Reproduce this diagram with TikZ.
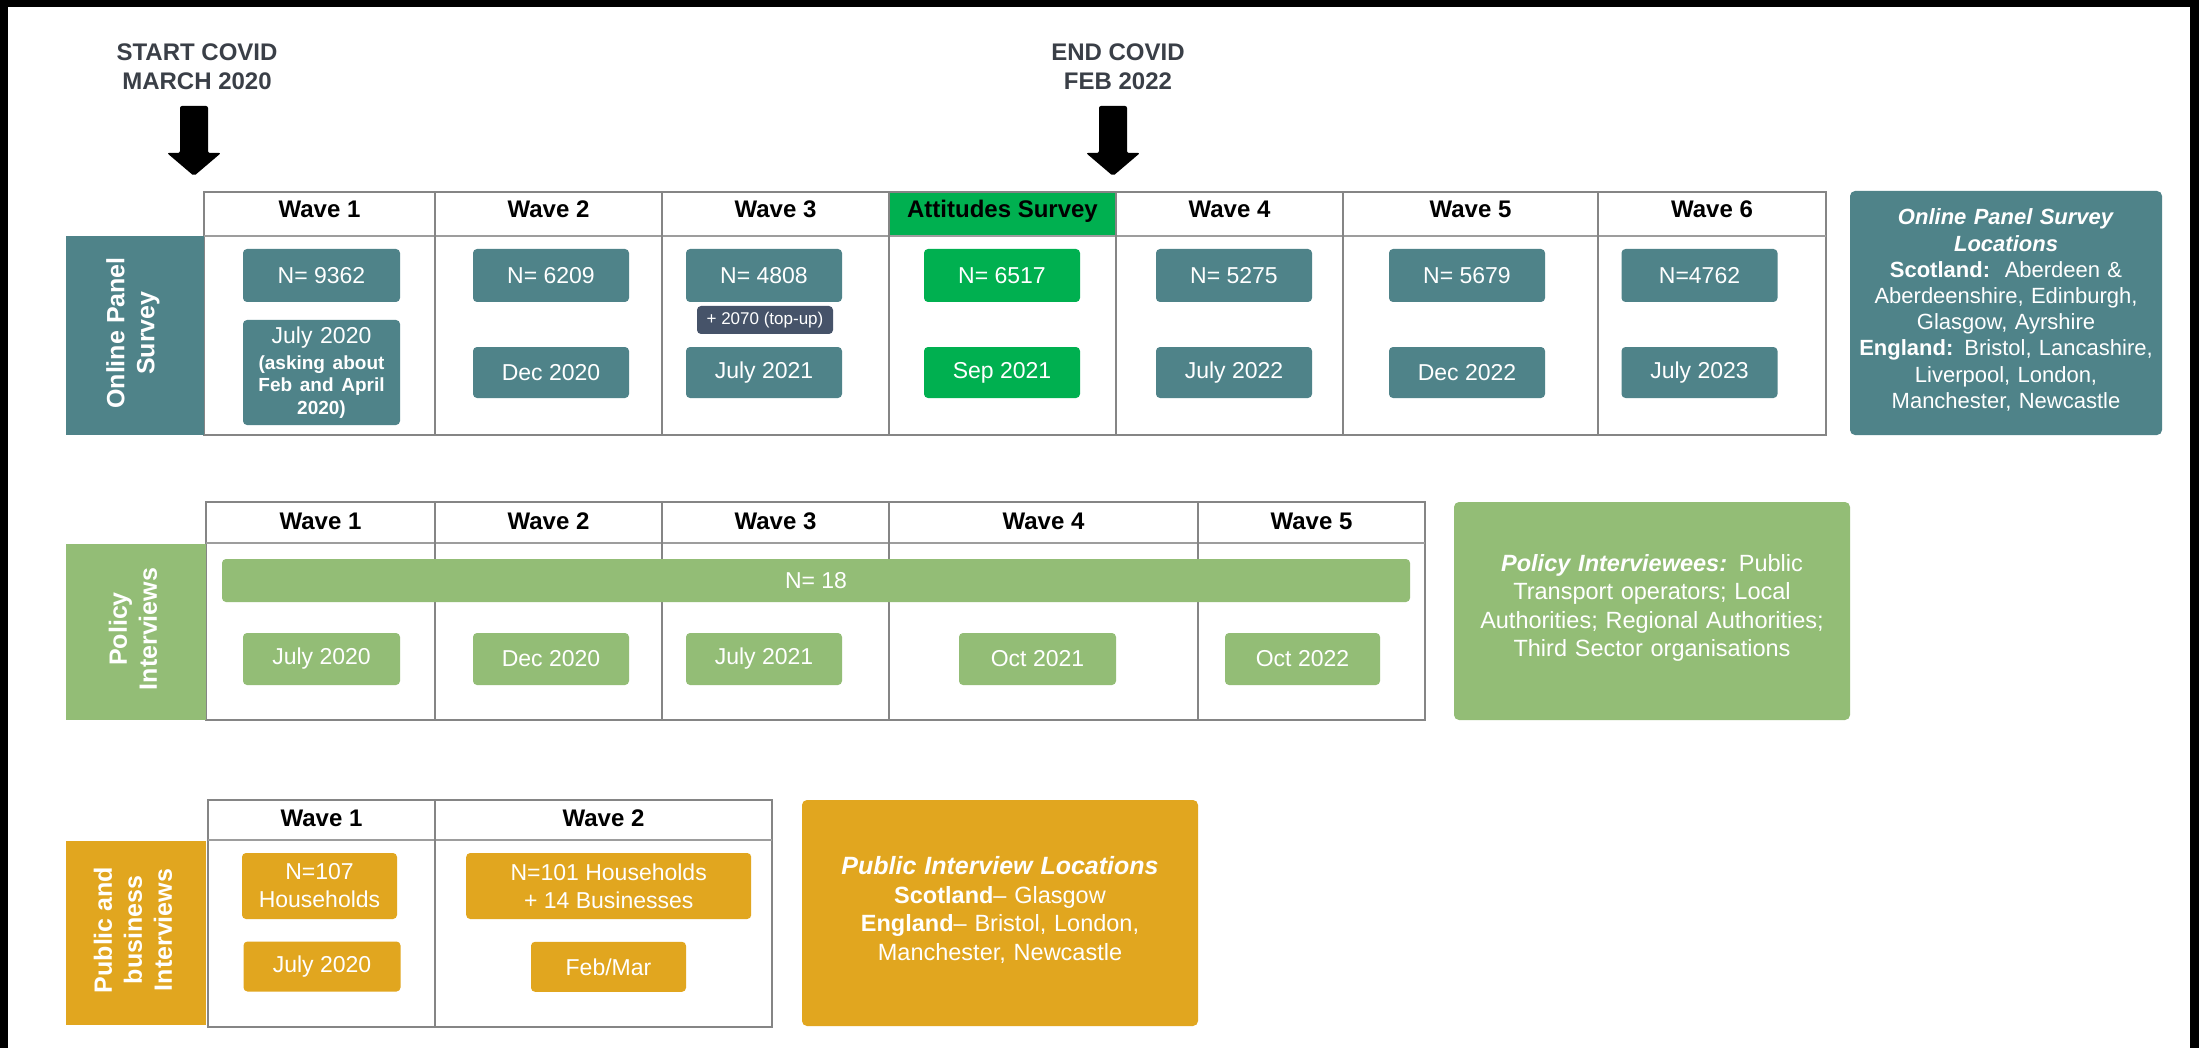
\documentclass[tikz,border=0pt]{standalone}
\usepackage{fontspec}
\setmainfont{Liberation Sans}
\definecolor{teal}{HTML}{4F8389}
\definecolor{attgreen}{HTML}{00B050}
\definecolor{lgreen}{HTML}{93BD76}
\definecolor{gold}{HTML}{E1A61F}
\definecolor{slate}{HTML}{465369}
\definecolor{gridgray}{HTML}{858585}
\definecolor{capgray}{HTML}{3A3F47}
\tikzset{
  gridline/.style={draw=gridgray, line width=1.5pt},
  hdrline/.style={draw=gridgray!80, line width=2.5pt},
  hdr/.style={font=\fontsize{24}{28}\selectfont\bfseries, inner sep=0pt, anchor=base},
  pill/.style={rectangle, rounded corners=4pt, fill=#1, text=white, inner sep=0pt, align=center, font=\fontsize{23}{28}\selectfont},
  rowbox/.style={rectangle, fill=#1, inner sep=0pt},
  rowtext/.style={rotate=90, text=white, inner sep=0pt, align=center, font=\fontsize{25}{30}\selectfont\bfseries},
  infobox/.style={rectangle, rounded corners=5pt, fill=#1, text=white, inner sep=0pt, align=center},
  covidlabel/.style={text=capgray, inner sep=0pt, align=center, font=\fontsize{24}{29}\selectfont\bfseries},
}
\begin{document}
\begin{tikzpicture}[x=1pt,y=-1pt]
\useasboundingbox (0,0) rectangle (2199,1048);
\fill[black] (0,0) rectangle (2199,1048);
\fill[white] (8,7) rectangle (2190,1048);

% ---------- COVID markers ----------
\node[covidlabel] (startlbl) at (197,67) {START COVID\\MARCH 2020};
\node[covidlabel] (endlbl) at (1118,67) {END COVID\\FEB 2022};
\fill[black, rounded corners=2pt] (180,106) -- (208,106) -- (208,153) -- (221,153) -- (194,176) -- (167,153) -- (180,153) -- cycle;
\fill[black, rounded corners=2pt] (1099,106) -- (1127,106) -- (1127,153) -- (1140,153) -- (1113,176) -- (1086,153) -- (1099,153) -- cycle;

% ---------- Online panel survey table ----------
\fill[attgreen] (889,192) rectangle (1116,236);
\draw[gridline] (204,192) rectangle (1826,435);
\draw[hdrline] (204,236) -- (1826,236);
\foreach \x in {435,662,889,1116,1343,1598} \draw[gridline] (\x,192) -- (\x,435);
\node[hdr] (h1w1) at (319.5,218) {Wave 1};
\node[hdr] (h1w2) at (548.5,218) {Wave 2};
\node[hdr] (h1w3) at (775.5,218) {Wave 3};
\node[hdr] (h1att) at (1002.5,218) {Attitudes Survey};
\node[hdr] (h1w4) at (1229.5,218) {Wave 4};
\node[hdr] (h1w5) at (1470.5,218) {Wave 5};
\node[hdr] (h1w6) at (1712,218) {Wave 6};

\node[rowbox=teal, minimum width=138pt, minimum height=199pt] (lab1) at (135,335.5) {};
\node[rowtext] (lab1t) at (133,333) {Online Panel\\Survey};

\node[pill=teal, minimum width=157pt, minimum height=53pt] (on1) at (321.5,275.5) {N= 9362};
\node[pill=teal, minimum width=156pt, minimum height=53pt] (on2) at (551,275.5) {N= 6209};
\node[pill=teal, minimum width=156pt, minimum height=53pt] (on3) at (764,275.5) {N= 4808};
\node[pill=attgreen, minimum width=156pt, minimum height=53pt] (onatt) at (1002,275.5) {N= 6517};
\node[pill=teal, minimum width=156pt, minimum height=53pt] (on4) at (1234,275.5) {N= 5275};
\node[pill=teal, minimum width=156pt, minimum height=53pt] (on5) at (1467,275.5) {N= 5679};
\node[pill=teal, minimum width=156pt, minimum height=53pt] (on6) at (1699.5,275.5) {N=4762};

\node[pill=slate, minimum width=136pt, minimum height=28pt, font=\fontsize{17}{20}\selectfont] (topup) at (765,320) {+ 2070 (top-up)};

\node[pill=teal, minimum width=157pt, minimum height=105pt, text width=157pt] (od1) at (321.5,372.5) {July 2020\par\vspace{3pt}{\fontsize{19}{22.5}\selectfont\bfseries (asking about\\Feb and April\\2020)\par}};
\node[pill=teal, minimum width=156pt, minimum height=51pt] (od2) at (551,372.5) {Dec 2020};
\node[pill=teal, minimum width=156pt, minimum height=51pt] (od3) at (764,372.5) {July 2021};
\node[pill=attgreen, minimum width=156pt, minimum height=51pt] (odatt) at (1002,372.5) {Sep 2021};
\node[pill=teal, minimum width=156pt, minimum height=51pt] (od4) at (1234,372.5) {July 2022};
\node[pill=teal, minimum width=156pt, minimum height=51pt] (od5) at (1467,372.5) {Dec 2022};
\node[pill=teal, minimum width=156pt, minimum height=51pt] (od6) at (1699.5,372.5) {July 2023};

\node[infobox=teal, minimum width=312pt, minimum height=244pt, text width=300pt, font=\fontsize{22}{26.2}\selectfont] (onloc) at (2006,313)
 {\textbf{\textit{Online Panel Survey}}\\\textbf{\textit{Locations}}\\\textbf{Scotland:}\ \ Aberdeen \&\\Aberdeenshire, Edinburgh,\\Glasgow, Ayrshire\\\textbf{England:} Bristol, Lancashire,\\Liverpool, London,\\Manchester, Newcastle\par\vspace{6pt}};

% ---------- Policy interviews table ----------
\draw[gridline] (206,502) rectangle (1425,720);
\draw[hdrline] (206,543) -- (1425,543);
\foreach \x in {435,662,889,1198} \draw[gridline] (\x,502) -- (\x,720);
\node[hdr] (h2w1) at (320.5,529) {Wave 1};
\node[hdr] (h2w2) at (548.5,529) {Wave 2};
\node[hdr] (h2w3) at (775.5,529) {Wave 3};
\node[hdr] (h2w4) at (1043.5,529) {Wave 4};
\node[hdr] (h2w5) at (1311.5,529) {Wave 5};

\node[rowbox=lgreen, minimum width=140pt, minimum height=176pt] (lab2) at (136,632) {};
\node[rowtext] (lab2t) at (133,629) {Policy\\Interviews};

\node[pill=lgreen, minimum width=1188pt, minimum height=43pt] (pn) at (816,580.5) {N= 18};
\node[pill=lgreen, minimum width=157pt, minimum height=52pt] (pd1) at (321.5,659) {July 2020};
\node[pill=lgreen, minimum width=156pt, minimum height=52pt] (pd2) at (551,659) {Dec 2020};
\node[pill=lgreen, minimum width=156pt, minimum height=52pt] (pd3) at (764,659) {July 2021};
\node[pill=lgreen, minimum width=157pt, minimum height=52pt] (pd4) at (1037.5,659) {Oct 2021};
\node[pill=lgreen, minimum width=155pt, minimum height=52pt] (pd5) at (1302.5,659) {Oct 2022};

\node[infobox=lgreen, minimum width=396pt, minimum height=218pt, text width=385pt, font=\fontsize{23.5}{28.6}\selectfont] (polbox) at (1652,611)
 {\textbf{\textit{Policy Interviewees:}} Public\\Transport operators; Local\\Authorities; Regional Authorities;\\Third Sector organisations\par\vspace{6pt}};

% ---------- Public and business interviews table ----------
\draw[gridline] (208,800) rectangle (772,1027);
\draw[hdrline] (208,840) -- (772,840);
\draw[gridline] (435,800) -- (435,1027);
\node[hdr] (h3w1) at (321.5,826) {Wave 1};
\node[hdr] (h3w2) at (603.5,826) {Wave 2};

\node[rowbox=gold, minimum width=140pt, minimum height=184pt] (lab3) at (136,933) {};
\node[rowtext] (lab3t) at (133,930) {Public and\\business\\Interviews};

\node[pill=gold, minimum width=155pt, minimum height=66pt] (bn1) at (319.5,886) {N=107\\Households};
\node[pill=gold, minimum width=157pt, minimum height=50pt] (bd1) at (322,966.5) {July 2020};
\node[pill=gold, minimum width=285pt, minimum height=66pt] (bn2) at (608.7,886) {N=101 Households\\+ 14 Businesses};
\node[pill=gold, minimum width=155pt, minimum height=50pt] (bd2) at (608.5,966.8) {Feb/Mar};

\node[infobox=gold, minimum width=396pt, minimum height=226pt, text width=385pt, font=\fontsize{23.5}{28.5}\selectfont] (pubbox) at (1000,913)
 {{\fontsize{25}{28.5}\selectfont\textbf{\textit{Public Interview Locations}}}\\\textbf{Scotland}– Glasgow\\\textbf{England}– Bristol, London,\\Manchester, Newcastle\par\vspace{6pt}};
\end{tikzpicture}
\end{document}
